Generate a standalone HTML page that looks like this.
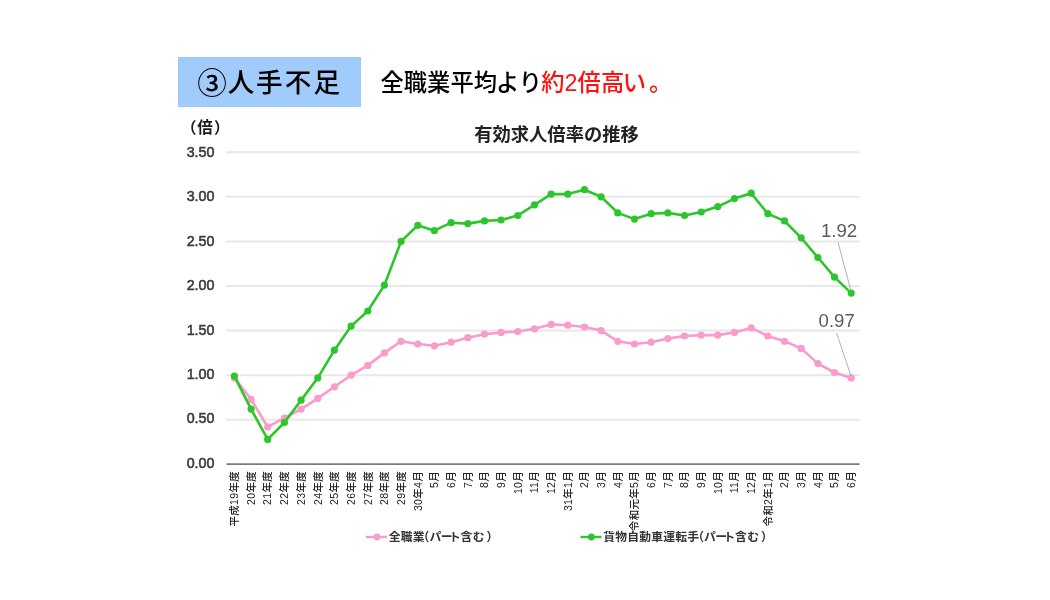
<!DOCTYPE html>
<html lang="ja"><head><meta charset="utf-8"><title>人手不足</title>
<style>
html,body{margin:0;padding:0;background:#fff;}
body{width:1050px;height:600px;overflow:hidden;position:relative;font-family:"Liberation Sans","Noto Sans CJK JP",sans-serif;}
.tag{position:absolute;left:178px;top:56.8px;width:182.5px;height:49.8px;background:#a0cbfa;box-shadow:inset 0 0 0 1px #9ac6f9;}
.tag span{position:absolute;left:0;right:0;top:2.4px;height:49px;line-height:49px;text-align:center;font-size:26.6px;font-weight:500;color:#000;white-space:nowrap;}
.tag i{font-style:normal;position:absolute;top:0;width:30px;text-align:center;}
.lead{position:absolute;left:380.5px;top:63px;height:40px;line-height:40px;font-size:23.3px;font-weight:500;color:#000;white-space:nowrap;}
.lead b{font-weight:500;color:#ff1111;}
svg{position:absolute;left:0;top:0;filter:blur(0.5px);}
svg text{font-family:"Liberation Sans","Noto Sans CJK JP",sans-serif;}
</style></head><body>
<div class="tag"><span><i style="left:19.1px;font-size:29.6px;top:-0.6px">③</i><i style="left:48.0px">人</i><i style="left:76.3px">手</i><i style="left:105.1px">不</i><i style="left:133.7px">足</i></span></div>
<div class="lead">全職業平均<span style="margin-left:-1px">より</span><b style="margin-left:-0.8px">約2倍高<span style="position:relative;left:-1.5px">い</span><span style="margin-left:1.5px">。</span></b></div>
<svg width="1050" height="600" viewBox="0 0 1050 600">

<line x1="226" x2="859.5" y1="419.8" y2="419.8" stroke="#e8e8e8" stroke-width="2"/>
<line x1="226" x2="859.5" y1="375.2" y2="375.2" stroke="#e8e8e8" stroke-width="2"/>
<line x1="226" x2="859.5" y1="330.6" y2="330.6" stroke="#e8e8e8" stroke-width="2"/>
<line x1="226" x2="859.5" y1="286.0" y2="286.0" stroke="#e8e8e8" stroke-width="2"/>
<line x1="226" x2="859.5" y1="241.4" y2="241.4" stroke="#e8e8e8" stroke-width="2"/>
<line x1="226" x2="859.5" y1="196.8" y2="196.8" stroke="#e8e8e8" stroke-width="2"/>
<line x1="226" x2="859.5" y1="152.2" y2="152.2" stroke="#e8e8e8" stroke-width="2"/>
<line x1="226.5" x2="859.5" y1="464.1" y2="464.1" stroke="#7c7c7c" stroke-width="1.8"/>
<text x="214.5" y="467.8" font-size="14.3" fill="#3a3a3a" stroke="#3a3a3a" stroke-width="0.55" text-anchor="end">0.00</text>
<text x="214.5" y="423.4" font-size="14.3" fill="#3a3a3a" stroke="#3a3a3a" stroke-width="0.55" text-anchor="end">0.50</text>
<text x="214.5" y="378.9" font-size="14.3" fill="#3a3a3a" stroke="#3a3a3a" stroke-width="0.55" text-anchor="end">1.00</text>
<text x="214.5" y="334.5" font-size="14.3" fill="#3a3a3a" stroke="#3a3a3a" stroke-width="0.55" text-anchor="end">1.50</text>
<text x="214.5" y="290.0" font-size="14.3" fill="#3a3a3a" stroke="#3a3a3a" stroke-width="0.55" text-anchor="end">2.00</text>
<text x="214.5" y="245.6" font-size="14.3" fill="#3a3a3a" stroke="#3a3a3a" stroke-width="0.55" text-anchor="end">2.50</text>
<text x="214.5" y="201.2" font-size="14.3" fill="#3a3a3a" stroke="#3a3a3a" stroke-width="0.55" text-anchor="end">3.00</text>
<text x="214.5" y="156.7" font-size="14.3" fill="#3a3a3a" stroke="#3a3a3a" stroke-width="0.55" text-anchor="end">3.50</text>
<text y="133" font-size="15.5" font-weight="700" fill="#1a1a1a"><tspan x="181">（</tspan><tspan x="197.3">倍</tspan><tspan x="214">）</tspan></text>
<text x="556.5" y="141" font-size="18.3" font-weight="700" fill="#222" text-anchor="middle">有効求人倍率の推移</text>
<polyline points="234.4,377.9 251.1,399.3 267.7,426.9 284.4,418.0 301.1,409.1 317.8,398.4 334.4,386.8 351.1,375.2 367.8,365.4 384.4,352.9 401.1,341.3 417.8,344.0 434.4,345.8 451.1,342.2 467.8,337.7 484.5,334.2 501.1,332.4 517.8,331.5 534.5,328.8 551.1,324.4 567.8,325.2 584.5,327.0 601.1,330.6 617.8,341.3 634.5,344.0 651.2,342.2 667.8,338.6 684.5,336.0 701.2,335.1 717.8,335.1 734.5,332.4 751.2,327.9 767.8,336.0 784.5,341.3 801.2,348.4 817.9,363.6 834.5,372.5 851.2,377.9" fill="none" stroke="#f99bcb" stroke-width="2.6" stroke-linejoin="round" stroke-linecap="round"/>
<circle cx="234.4" cy="377.9" r="3.6" fill="#f99bcb"/>
<circle cx="251.1" cy="399.3" r="3.6" fill="#f99bcb"/>
<circle cx="267.7" cy="426.9" r="3.6" fill="#f99bcb"/>
<circle cx="284.4" cy="418.0" r="3.6" fill="#f99bcb"/>
<circle cx="301.1" cy="409.1" r="3.6" fill="#f99bcb"/>
<circle cx="317.8" cy="398.4" r="3.6" fill="#f99bcb"/>
<circle cx="334.4" cy="386.8" r="3.6" fill="#f99bcb"/>
<circle cx="351.1" cy="375.2" r="3.6" fill="#f99bcb"/>
<circle cx="367.8" cy="365.4" r="3.6" fill="#f99bcb"/>
<circle cx="384.4" cy="352.9" r="3.6" fill="#f99bcb"/>
<circle cx="401.1" cy="341.3" r="3.6" fill="#f99bcb"/>
<circle cx="417.8" cy="344.0" r="3.6" fill="#f99bcb"/>
<circle cx="434.4" cy="345.8" r="3.6" fill="#f99bcb"/>
<circle cx="451.1" cy="342.2" r="3.6" fill="#f99bcb"/>
<circle cx="467.8" cy="337.7" r="3.6" fill="#f99bcb"/>
<circle cx="484.5" cy="334.2" r="3.6" fill="#f99bcb"/>
<circle cx="501.1" cy="332.4" r="3.6" fill="#f99bcb"/>
<circle cx="517.8" cy="331.5" r="3.6" fill="#f99bcb"/>
<circle cx="534.5" cy="328.8" r="3.6" fill="#f99bcb"/>
<circle cx="551.1" cy="324.4" r="3.6" fill="#f99bcb"/>
<circle cx="567.8" cy="325.2" r="3.6" fill="#f99bcb"/>
<circle cx="584.5" cy="327.0" r="3.6" fill="#f99bcb"/>
<circle cx="601.1" cy="330.6" r="3.6" fill="#f99bcb"/>
<circle cx="617.8" cy="341.3" r="3.6" fill="#f99bcb"/>
<circle cx="634.5" cy="344.0" r="3.6" fill="#f99bcb"/>
<circle cx="651.2" cy="342.2" r="3.6" fill="#f99bcb"/>
<circle cx="667.8" cy="338.6" r="3.6" fill="#f99bcb"/>
<circle cx="684.5" cy="336.0" r="3.6" fill="#f99bcb"/>
<circle cx="701.2" cy="335.1" r="3.6" fill="#f99bcb"/>
<circle cx="717.8" cy="335.1" r="3.6" fill="#f99bcb"/>
<circle cx="734.5" cy="332.4" r="3.6" fill="#f99bcb"/>
<circle cx="751.2" cy="327.9" r="3.6" fill="#f99bcb"/>
<circle cx="767.8" cy="336.0" r="3.6" fill="#f99bcb"/>
<circle cx="784.5" cy="341.3" r="3.6" fill="#f99bcb"/>
<circle cx="801.2" cy="348.4" r="3.6" fill="#f99bcb"/>
<circle cx="817.9" cy="363.6" r="3.6" fill="#f99bcb"/>
<circle cx="834.5" cy="372.5" r="3.6" fill="#f99bcb"/>
<circle cx="851.2" cy="377.9" r="3.6" fill="#f99bcb"/>
<polyline points="234.4,376.1 251.1,409.1 267.7,439.4 284.4,422.5 301.1,400.2 317.8,377.9 334.4,350.2 351.1,326.1 367.8,311.0 384.4,285.1 401.1,241.4 417.8,225.3 434.4,230.7 451.1,222.7 467.8,223.6 484.5,220.9 501.1,220.0 517.8,215.5 534.5,204.8 551.1,194.1 567.8,194.1 584.5,189.7 601.1,196.8 617.8,212.9 634.5,219.1 651.2,213.7 667.8,212.9 684.5,215.5 701.2,212.0 717.8,206.6 734.5,198.6 751.2,193.2 767.8,213.7 784.5,220.9 801.2,237.8 817.9,257.5 834.5,277.1 851.2,293.1" fill="none" stroke="#2cc62c" stroke-width="2.6" stroke-linejoin="round" stroke-linecap="round"/>
<circle cx="234.4" cy="376.1" r="3.6" fill="#2cc62c"/>
<circle cx="251.1" cy="409.1" r="3.6" fill="#2cc62c"/>
<circle cx="267.7" cy="439.4" r="3.6" fill="#2cc62c"/>
<circle cx="284.4" cy="422.5" r="3.6" fill="#2cc62c"/>
<circle cx="301.1" cy="400.2" r="3.6" fill="#2cc62c"/>
<circle cx="317.8" cy="377.9" r="3.6" fill="#2cc62c"/>
<circle cx="334.4" cy="350.2" r="3.6" fill="#2cc62c"/>
<circle cx="351.1" cy="326.1" r="3.6" fill="#2cc62c"/>
<circle cx="367.8" cy="311.0" r="3.6" fill="#2cc62c"/>
<circle cx="384.4" cy="285.1" r="3.6" fill="#2cc62c"/>
<circle cx="401.1" cy="241.4" r="3.6" fill="#2cc62c"/>
<circle cx="417.8" cy="225.3" r="3.6" fill="#2cc62c"/>
<circle cx="434.4" cy="230.7" r="3.6" fill="#2cc62c"/>
<circle cx="451.1" cy="222.7" r="3.6" fill="#2cc62c"/>
<circle cx="467.8" cy="223.6" r="3.6" fill="#2cc62c"/>
<circle cx="484.5" cy="220.9" r="3.6" fill="#2cc62c"/>
<circle cx="501.1" cy="220.0" r="3.6" fill="#2cc62c"/>
<circle cx="517.8" cy="215.5" r="3.6" fill="#2cc62c"/>
<circle cx="534.5" cy="204.8" r="3.6" fill="#2cc62c"/>
<circle cx="551.1" cy="194.1" r="3.6" fill="#2cc62c"/>
<circle cx="567.8" cy="194.1" r="3.6" fill="#2cc62c"/>
<circle cx="584.5" cy="189.7" r="3.6" fill="#2cc62c"/>
<circle cx="601.1" cy="196.8" r="3.6" fill="#2cc62c"/>
<circle cx="617.8" cy="212.9" r="3.6" fill="#2cc62c"/>
<circle cx="634.5" cy="219.1" r="3.6" fill="#2cc62c"/>
<circle cx="651.2" cy="213.7" r="3.6" fill="#2cc62c"/>
<circle cx="667.8" cy="212.9" r="3.6" fill="#2cc62c"/>
<circle cx="684.5" cy="215.5" r="3.6" fill="#2cc62c"/>
<circle cx="701.2" cy="212.0" r="3.6" fill="#2cc62c"/>
<circle cx="717.8" cy="206.6" r="3.6" fill="#2cc62c"/>
<circle cx="734.5" cy="198.6" r="3.6" fill="#2cc62c"/>
<circle cx="751.2" cy="193.2" r="3.6" fill="#2cc62c"/>
<circle cx="767.8" cy="213.7" r="3.6" fill="#2cc62c"/>
<circle cx="784.5" cy="220.9" r="3.6" fill="#2cc62c"/>
<circle cx="801.2" cy="237.8" r="3.6" fill="#2cc62c"/>
<circle cx="817.9" cy="257.5" r="3.6" fill="#2cc62c"/>
<circle cx="834.5" cy="277.1" r="3.6" fill="#2cc62c"/>
<circle cx="851.2" cy="293.1" r="3.6" fill="#2cc62c"/>
<line x1="838" y1="242" x2="851" y2="291" stroke="#a8a8a8" stroke-width="0.9"/>
<line x1="836.6" y1="333" x2="851" y2="376" stroke="#a8a8a8" stroke-width="0.9"/>
<text x="820.9" y="236.8" font-size="18.6" fill="#5a5a5a">1.92</text>
<text x="818.6" y="327.0" font-size="18.6" fill="#5a5a5a">0.97</text>
<text transform="translate(238.1,471) rotate(-90)" font-size="10.5" font-weight="500" letter-spacing="0.3" fill="#222" text-anchor="end">平成19年度</text>
<text transform="translate(254.8,471) rotate(-90)" font-size="10.5" font-weight="500" letter-spacing="0.3" fill="#222" text-anchor="end">20年度</text>
<text transform="translate(271.4,471) rotate(-90)" font-size="10.5" font-weight="500" letter-spacing="0.3" fill="#222" text-anchor="end">21年度</text>
<text transform="translate(288.1,471) rotate(-90)" font-size="10.5" font-weight="500" letter-spacing="0.3" fill="#222" text-anchor="end">22年度</text>
<text transform="translate(304.8,471) rotate(-90)" font-size="10.5" font-weight="500" letter-spacing="0.3" fill="#222" text-anchor="end">23年度</text>
<text transform="translate(321.5,471) rotate(-90)" font-size="10.5" font-weight="500" letter-spacing="0.3" fill="#222" text-anchor="end">24年度</text>
<text transform="translate(338.1,471) rotate(-90)" font-size="10.5" font-weight="500" letter-spacing="0.3" fill="#222" text-anchor="end">25年度</text>
<text transform="translate(354.8,471) rotate(-90)" font-size="10.5" font-weight="500" letter-spacing="0.3" fill="#222" text-anchor="end">26年度</text>
<text transform="translate(371.5,471) rotate(-90)" font-size="10.5" font-weight="500" letter-spacing="0.3" fill="#222" text-anchor="end">27年度</text>
<text transform="translate(388.1,471) rotate(-90)" font-size="10.5" font-weight="500" letter-spacing="0.3" fill="#222" text-anchor="end">28年度</text>
<text transform="translate(404.8,471) rotate(-90)" font-size="10.5" font-weight="500" letter-spacing="0.3" fill="#222" text-anchor="end">29年度</text>
<text transform="translate(421.5,471) rotate(-90)" font-size="10.5" font-weight="500" letter-spacing="0.3" fill="#222" text-anchor="end">30年4月</text>
<text transform="translate(438.1,471) rotate(-90)" font-size="10.5" font-weight="500" letter-spacing="0.3" fill="#222" text-anchor="end">5月</text>
<text transform="translate(454.8,471) rotate(-90)" font-size="10.5" font-weight="500" letter-spacing="0.3" fill="#222" text-anchor="end">6月</text>
<text transform="translate(471.5,471) rotate(-90)" font-size="10.5" font-weight="500" letter-spacing="0.3" fill="#222" text-anchor="end">7月</text>
<text transform="translate(488.2,471) rotate(-90)" font-size="10.5" font-weight="500" letter-spacing="0.3" fill="#222" text-anchor="end">8月</text>
<text transform="translate(504.8,471) rotate(-90)" font-size="10.5" font-weight="500" letter-spacing="0.3" fill="#222" text-anchor="end">9月</text>
<text transform="translate(521.5,471) rotate(-90)" font-size="10.5" font-weight="500" letter-spacing="0.3" fill="#222" text-anchor="end">10月</text>
<text transform="translate(538.2,471) rotate(-90)" font-size="10.5" font-weight="500" letter-spacing="0.3" fill="#222" text-anchor="end">11月</text>
<text transform="translate(554.8,471) rotate(-90)" font-size="10.5" font-weight="500" letter-spacing="0.3" fill="#222" text-anchor="end">12月</text>
<text transform="translate(571.5,471) rotate(-90)" font-size="10.5" font-weight="500" letter-spacing="0.3" fill="#222" text-anchor="end">31年1月</text>
<text transform="translate(588.2,471) rotate(-90)" font-size="10.5" font-weight="500" letter-spacing="0.3" fill="#222" text-anchor="end">2月</text>
<text transform="translate(604.8,471) rotate(-90)" font-size="10.5" font-weight="500" letter-spacing="0.3" fill="#222" text-anchor="end">3月</text>
<text transform="translate(621.5,471) rotate(-90)" font-size="10.5" font-weight="500" letter-spacing="0.3" fill="#222" text-anchor="end">4月</text>
<text transform="translate(638.2,471) rotate(-90)" font-size="10.5" font-weight="500" letter-spacing="0.3" fill="#222" text-anchor="end">令和元年5月</text>
<text transform="translate(654.9,471) rotate(-90)" font-size="10.5" font-weight="500" letter-spacing="0.3" fill="#222" text-anchor="end">6月</text>
<text transform="translate(671.5,471) rotate(-90)" font-size="10.5" font-weight="500" letter-spacing="0.3" fill="#222" text-anchor="end">7月</text>
<text transform="translate(688.2,471) rotate(-90)" font-size="10.5" font-weight="500" letter-spacing="0.3" fill="#222" text-anchor="end">8月</text>
<text transform="translate(704.9,471) rotate(-90)" font-size="10.5" font-weight="500" letter-spacing="0.3" fill="#222" text-anchor="end">9月</text>
<text transform="translate(721.5,471) rotate(-90)" font-size="10.5" font-weight="500" letter-spacing="0.3" fill="#222" text-anchor="end">10月</text>
<text transform="translate(738.2,471) rotate(-90)" font-size="10.5" font-weight="500" letter-spacing="0.3" fill="#222" text-anchor="end">11月</text>
<text transform="translate(754.9,471) rotate(-90)" font-size="10.5" font-weight="500" letter-spacing="0.3" fill="#222" text-anchor="end">12月</text>
<text transform="translate(771.5,471) rotate(-90)" font-size="10.5" font-weight="500" letter-spacing="0.3" fill="#222" text-anchor="end">令和2年1月</text>
<text transform="translate(788.2,471) rotate(-90)" font-size="10.5" font-weight="500" letter-spacing="0.3" fill="#222" text-anchor="end">2月</text>
<text transform="translate(804.9,471) rotate(-90)" font-size="10.5" font-weight="500" letter-spacing="0.3" fill="#222" text-anchor="end">3月</text>
<text transform="translate(821.6,471) rotate(-90)" font-size="10.5" font-weight="500" letter-spacing="0.3" fill="#222" text-anchor="end">4月</text>
<text transform="translate(838.2,471) rotate(-90)" font-size="10.5" font-weight="500" letter-spacing="0.3" fill="#222" text-anchor="end">5月</text>
<text transform="translate(854.9,471) rotate(-90)" font-size="10.5" font-weight="500" letter-spacing="0.3" fill="#222" text-anchor="end">6月</text>
<line x1="366" x2="387" y1="537" y2="537" stroke="#f99bcb" stroke-width="2.4"/><circle cx="377" cy="537" r="3.4" fill="#f99bcb"/>
<text x="388.7 400.7 412.7 417.6 429.4 440.7 449.0 460.4 472.7 486.5" y="541.3" font-size="11.8" font-weight="700" fill="#333">全職業（パート含む）</text>
<line x1="580.5" x2="601.5" y1="537" y2="537" stroke="#2cc62c" stroke-width="2.4"/><circle cx="591.4" cy="537" r="3.4" fill="#2cc62c"/>
<text x="603.3 615.3 627.3 639.3 651.3 663.3 675.3 687.3 692.2 704.0 715.3 723.6 735.0 747.3 761.1" y="541.3" font-size="11.8" font-weight="700" fill="#333">貨物自動車運転手（パート含む）</text>
</svg></body></html>
